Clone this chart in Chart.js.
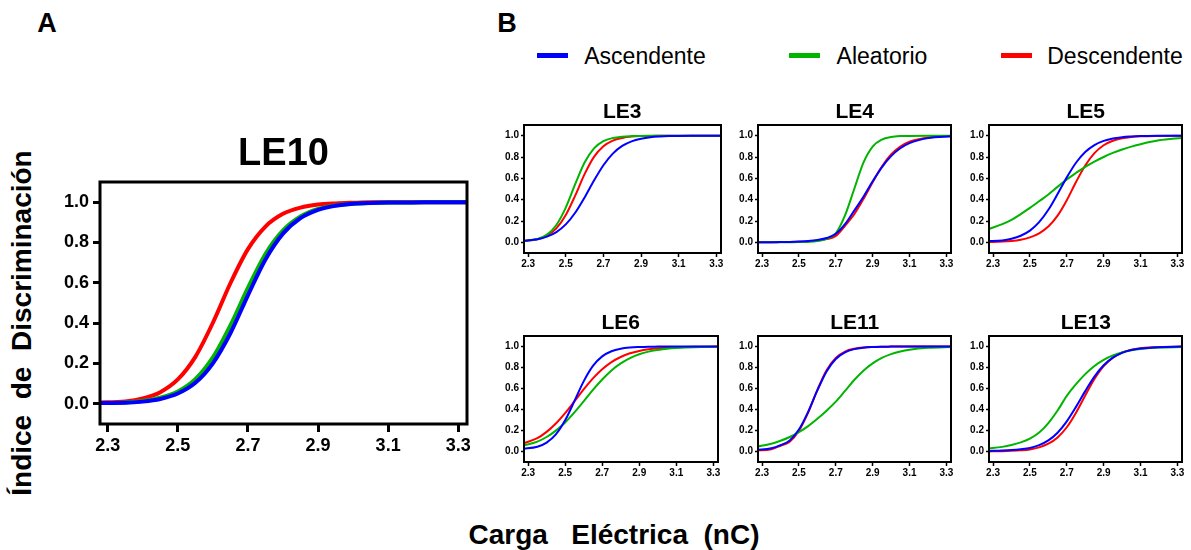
<!DOCTYPE html>
<html>
<head>
<meta charset="utf-8">
<script src="https://cdn.jsdelivr.net/npm/chart.js@4.4.1/dist/chart.umd.min.js"></script>
<style>
  html, body { margin: 0; padding: 0; background: #fff; }
  body { width: 1191px; height: 550px; position: relative; overflow: hidden;
         font-family: "Liberation Sans", Arial, sans-serif; color: #000; }
  canvas { position: absolute; }
  .t { position: absolute; white-space: pre; transform: translate(-50%, -50%); line-height: 1; }
  .b { font-weight: bold; }
  .leg { position: absolute; height: 5px; width: 31px; }
</style>
</head>
<body>
<div class="t b" style="left:47px; top:23px; font-size:27px;">A</div>
<div class="t b" style="left:507px; top:23px; font-size:27px;">B</div>

<div class="leg" style="left:537px; top:53px; background:#0000ff;"></div>
<div class="t" style="left:645px; top:56px; font-size:23px;">Ascendente</div>
<div class="leg" style="left:789px; top:53px; background:#00b400;"></div>
<div class="t" style="left:882px; top:56px; font-size:23px;">Aleatorio</div>
<div class="leg" style="left:1001px; top:53px; background:#ff0000;"></div>
<div class="t" style="left:1115px; top:56px; font-size:23px;">Descendente</div>

<div class="t b" style="left:22px; top:323px; font-size:28px; transform: translate(-50%, -50%) rotate(-90deg);">Índice  de  Discriminación</div>
<div class="t b" style="left:614px; top:535px; font-size:28px;">Carga   Eléctrica  (nC)</div>

<canvas id="cLE10"></canvas>
<canvas id="cLE3"></canvas>
<canvas id="cLE4"></canvas>
<canvas id="cLE5"></canvas>
<canvas id="cLE6"></canvas>
<canvas id="cLE11"></canvas>
<canvas id="cLE13"></canvas>

<script>
// carga electrica (nC) where curves were read
const xs = [2.27, 2.35, 2.40, 2.45, 2.50, 2.55, 2.60, 2.65, 2.70, 2.75, 2.80, 2.85, 2.90, 2.95, 3.00, 3.05, 3.10, 3.20, 3.33];
const xTicks = [2.3, 2.5, 2.7, 2.9, 3.1, 3.3];
const yTicks = [0, 0.2, 0.4, 0.6, 0.8, 1.0];

const le10Asc = [0.004, 0.005, 0.011, 0.024, 0.051, 0.104, 0.201, 0.350, 0.538, 0.716, 0.844, 0.921, 0.962, 0.982, 0.992, 0.996, 0.998, 0.999, 1.0];
const le10Ale = [0.004, 0.007, 0.014, 0.030, 0.061, 0.122, 0.230, 0.389, 0.575, 0.743, 0.860, 0.929, 0.966, 0.984, 0.992, 0.996, 0.998, 0.999, 1.0];
const le10Des = [0.006, 0.012, 0.027, 0.058, 0.121, 0.233, 0.402, 0.598, 0.767, 0.879, 0.942, 0.973, 0.988, 0.994, 0.997, 0.999, 0.999, 1.0, 1.0];

const le3Asc = [0.014, 0.029, 0.053, 0.096, 0.168, 0.277, 0.421, 0.579, 0.723, 0.832, 0.904, 0.947, 0.971, 0.985, 0.992, 0.996, 0.998, 0.999, 1.0];
const le3Ale = [0.012, 0.031, 0.072, 0.163, 0.326, 0.545, 0.748, 0.881, 0.948, 0.978, 0.991, 0.996, 0.998, 0.999, 1.0, 1.0, 1.0, 1.0, 1.0];
const le3Des = [0.013, 0.029, 0.063, 0.131, 0.256, 0.438, 0.639, 0.801, 0.901, 0.954, 0.979, 0.991, 0.996, 0.998, 0.999, 1.0, 1.0, 1.0, 1.0];

const le4Asc = [0.0, 0.001, 0.002, 0.004, 0.007, 0.012, 0.022, 0.040, 0.080, 0.170, 0.297, 0.428, 0.572, 0.703, 0.808, 0.882, 0.930, 0.977, 0.994];
const le4Ale = [0.0, 0.0, 0.0, 0.001, 0.002, 0.004, 0.012, 0.034, 0.085, 0.252, 0.500, 0.748, 0.898, 0.963, 0.987, 0.996, 0.998, 1.0, 1.0];
const le4Des = [0.0, 0.001, 0.002, 0.003, 0.005, 0.009, 0.016, 0.030, 0.060, 0.155, 0.263, 0.406, 0.564, 0.711, 0.823, 0.898, 0.944, 0.984, 0.996];

const le5Asc = [0.012, 0.018, 0.034, 0.062, 0.110, 0.189, 0.305, 0.453, 0.609, 0.746, 0.847, 0.912, 0.951, 0.974, 0.986, 0.992, 0.996, 0.999, 1.0];
const le5Ale = [0.120, 0.170, 0.210, 0.265, 0.323, 0.385, 0.448, 0.520, 0.589, 0.650, 0.708, 0.757, 0.800, 0.838, 0.870, 0.897, 0.920, 0.956, 0.980];
const le5Des = [0.003, 0.007, 0.013, 0.025, 0.047, 0.085, 0.148, 0.250, 0.395, 0.565, 0.720, 0.836, 0.910, 0.952, 0.975, 0.988, 0.994, 0.998, 1.0];

const le6Asc = [0.025, 0.045, 0.085, 0.163, 0.297, 0.480, 0.668, 0.815, 0.906, 0.955, 0.979, 0.990, 0.995, 0.998, 0.999, 1.0, 1.0, 1.0, 1.0];
const le6Ale = [0.054, 0.094, 0.138, 0.199, 0.277, 0.373, 0.478, 0.587, 0.686, 0.772, 0.839, 0.890, 0.926, 0.951, 0.967, 0.979, 0.986, 0.994, 0.998];
const le6Des = [0.075, 0.127, 0.187, 0.267, 0.366, 0.477, 0.591, 0.696, 0.783, 0.851, 0.900, 0.935, 0.958, 0.973, 0.983, 0.989, 0.993, 0.997, 0.999];

const le11Asc = [0.016, 0.030, 0.060, 0.105, 0.209, 0.378, 0.582, 0.763, 0.881, 0.944, 0.975, 0.989, 0.995, 0.998, 0.999, 1.0, 1.0, 1.0, 1.0];
const le11Ale = [0.045, 0.074, 0.102, 0.138, 0.185, 0.242, 0.312, 0.389, 0.475, 0.577, 0.681, 0.770, 0.839, 0.891, 0.927, 0.952, 0.969, 0.987, 0.995];
const le11Des = [0.010, 0.022, 0.055, 0.093, 0.198, 0.371, 0.587, 0.774, 0.892, 0.952, 0.979, 0.991, 0.996, 0.998, 0.999, 1.0, 1.0, 1.0, 1.0];

const le13Asc = [0.005, 0.009, 0.014, 0.022, 0.034, 0.061, 0.106, 0.179, 0.287, 0.425, 0.575, 0.713, 0.821, 0.894, 0.939, 0.966, 0.981, 0.994, 0.999];
const le13Ale = [0.027, 0.044, 0.062, 0.087, 0.122, 0.180, 0.270, 0.390, 0.530, 0.641, 0.737, 0.815, 0.873, 0.915, 0.944, 0.964, 0.977, 0.990, 0.995];
const le13Des = [0.001, 0.003, 0.006, 0.011, 0.020, 0.039, 0.074, 0.134, 0.231, 0.370, 0.533, 0.690, 0.813, 0.894, 0.943, 0.970, 0.984, 0.996, 0.999];

const BLUE = "#0000ff", GREEN = "#00b400", RED = "#ff0000";
const FONT = "'Liberation Sans', Arial, sans-serif";

// box around the plot area
const framePlugin = {
    id: "frame",
    afterDraw(chart, args, opts) {
        const { ctx, chartArea: a } = chart;
        ctx.save();
        ctx.strokeStyle = "#000";
        ctx.lineWidth = opts.width;
        ctx.strokeRect(a.left, a.top, a.right - a.left, a.bottom - a.top);
        ctx.restore();
    }
};

const big = { yW: 60, padTop: 16, padRight: 14, xH: 36, line: 4, frame: 3, tick: 8, tickW: 3, font: 18, xPad: 3, yPad: 4, yTick: 7 };
const small = { yW: 30, padTop: 10, padRight: 10, xH: 20, line: 2, frame: 2, tick: 4, tickW: 1.5, font: 10, xPad: 1, yPad: 2, yTick: 3 };

function makeChart(id, title, box, st, asc, ale, des) {
    const cv = document.getElementById(id);
    const [L, T, R, B] = box;
    cv.width = (R - L) + st.yW + st.padRight;
    cv.height = (B - T) + st.padTop + st.xH;
    cv.style.left = (L - st.yW) + "px";
    cv.style.top = (T - st.padTop) + "px";

    const pts = arr => xs.map((x, i) => ({ x: x, y: arr[i] }));
    const ds = (label, arr, color) => ({
        label, data: pts(arr), borderColor: color, borderWidth: st.line,
        pointRadius: 0, fill: false, cubicInterpolationMode: "monotone"
    });

    new Chart(cv.getContext("2d"), {
        type: "line",
        data: {
            datasets: [
                ds("Ascendente", asc, BLUE),
                ds("Aleatorio", ale, GREEN),
                ds("Descendente", des, RED)
            ]
        },
        options: {
            responsive: false,
            animation: false,
            layout: { padding: { top: st.padTop, right: st.padRight, left: 0, bottom: 0 } },
            plugins: { legend: { display: false }, tooltip: { enabled: false }, frame: { width: st.frame } },
            scales: {
                x: {
                    type: "linear", min: 2.278, max: 3.325,
                    afterBuildTicks: s => { s.ticks = xTicks.map(v => ({ value: v })); },
                    afterFit: s => { s.height = st.xH; },
                    grid: { drawOnChartArea: false, drawTicks: true, tickLength: st.tick, tickWidth: st.tickW, tickColor: "#000" },
                    border: { display: false },
                    ticks: { autoSkip: false, maxRotation: 0, minRotation: 0, padding: st.xPad, color: "#000",
                             font: { family: FONT, size: st.font, weight: "bold" },
                             callback: v => v.toFixed(1) }
                },
                y: {
                    type: "linear", min: -0.1, max: 1.1,
                    afterBuildTicks: s => { s.ticks = yTicks.map(v => ({ value: v })); },
                    afterFit: s => { s.width = st.yW; },
                    grid: { drawOnChartArea: false, drawTicks: true, tickLength: st.yTick, tickWidth: st.tickW, tickColor: "#000" },
                    border: { display: false },
                    ticks: { padding: st.yPad, color: "#000",
                             font: { family: FONT, size: st.font, weight: "bold" },
                             callback: v => v.toFixed(1) }
                }
            }
        },
        plugins: [framePlugin]
    });

    const t = document.createElement("div");
    t.className = "t b";
    t.textContent = title;
    const isBig = st === big;
    t.style.left = ((L + R) / 2) + "px";
    t.style.top = (isBig ? T - 30 : T - 15) + "px";
    t.style.fontSize = (isBig ? 38 : 21) + "px";
    document.body.appendChild(t);
}

makeChart("cLE10", "LE10", [100, 182, 467, 424], big, le10Asc, le10Ale, le10Des);
makeChart("cLE3", "LE3", [523.5, 124.5, 721, 252.5], small, le3Asc, le3Ale, le3Des);
makeChart("cLE4", "LE4", [758, 124.5, 951.5, 252.5], small, le4Asc, le4Ale, le4Des);
makeChart("cLE5", "LE5", [989, 124.5, 1182.5, 252.5], small, le5Asc, le5Ale, le5Des);
makeChart("cLE6", "LE6", [523.5, 336, 718, 462.5], small, le6Asc, le6Ale, le6Des);
makeChart("cLE11", "LE11", [758, 336, 951.5, 462.5], small, le11Asc, le11Ale, le11Des);
makeChart("cLE13", "LE13", [989, 336, 1182.5, 462.5], small, le13Asc, le13Ale, le13Des);
</script>
</body>
</html>
